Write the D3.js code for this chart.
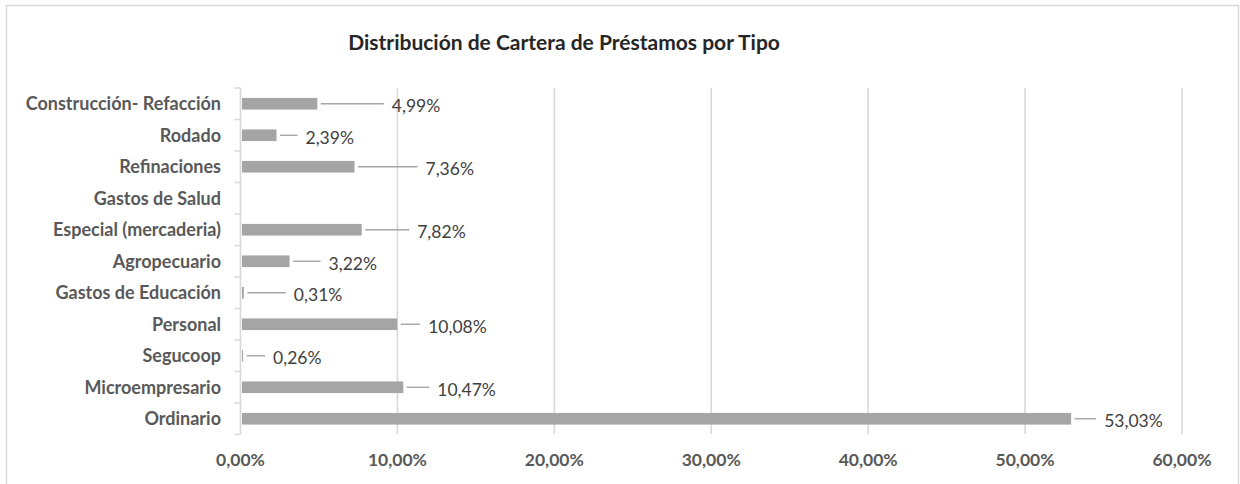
<!DOCTYPE html>
<html><head><meta charset="utf-8">
<script src="https://cdn.jsdelivr.net/npm/d3@7"></script>
<style>
html,body{margin:0;padding:0;background:#fff;}
svg{display:block;font-family:Lato,"Open Sans",sans-serif;}
</style></head>
<body>
<svg id="chart" width="1240" height="484"></svg>
<script>
const categories = ["Construcción- Refacción","Rodado","Refinaciones","Gastos de Salud","Especial (mercaderia)","Agropecuario","Gastos de Educación","Personal","Segucoop","Microempresario","Ordinario"];
const values = [4.99, 2.39, 7.36, 0, 7.82, 3.22, 0.31, 10.08, 0.26, 10.47, 53.03];
const valueLabels = ["4,99%","2,39%","7,36%","","7,82%","3,22%","0,31%","10,08%","0,26%","10,47%","53,03%"];
const tickValues = [0, 10, 20, 30, 40, 50, 60];
const tickLabels = ["0,00%","10,00%","20,00%","30,00%","40,00%","50,00%","60,00%"];
const title = "Distribución de Cartera de Préstamos por Tipo";
// horizontal distance (px) from bar end to the start of each data label
const labelGap = [73, 27.5, 69.5, 0, 54, 37.5, 48.5, 29.5, 28.5, 32.5, 31.5];

const svg = d3.select("#chart");
svg.append("rect").attr("x",6.5).attr("y",5.5).attr("width",1232).attr("height",520)
  .attr("fill","#fff").attr("stroke","#d9d9d9").attr("stroke-width",1.5);

svg.append("text").attr("x",564).attr("y",50).attr("text-anchor","middle")
  .attr("font-size",21).attr("font-weight","bold").attr("fill","#262626").text(title);

const x = d3.scaleLinear().domain([0,60]).range([240.5,1182]);
const y = d3.scaleBand().domain(categories).range([88,434.5]).paddingInner(0.63).paddingOuter(0.315);
const yb = d3.scaleBand().domain(categories).range([88,434.5]);

// gridlines
svg.append("g").selectAll("line").data(tickValues.slice(1)).join("line")
  .attr("x1",d=>x(d)).attr("x2",d=>x(d)).attr("y1",88).attr("y2",434)
  .attr("stroke","#d9d9d9").attr("stroke-width",1.6);

// y axis
const yAxis = d3.axisLeft(yb).tickSize(6).tickFormat(()=> "");
const ya = svg.append("g").attr("transform",`translate(${x(0)},0)`).call(yAxis);
ya.selectAll(".tick line").attr("transform",`translate(0,${-yb.bandwidth()/2})`).attr("stroke","#d9d9d9").attr("stroke-width",1.5);
ya.select(".domain").attr("stroke","#d9d9d9").attr("stroke-width",1.6).attr("d",`M0,88V434.5`);
ya.append("line").attr("x1",-6).attr("x2",0).attr("y1",434.5).attr("y2",434.5).attr("stroke","#d9d9d9").attr("stroke-width",1.5);

// category labels
svg.append("g").selectAll("text").data(categories).join("text")
  .attr("x",221).attr("y",d=>yb(d)+yb.bandwidth()/2).attr("dy","0.36em")
  .attr("text-anchor","end").attr("font-size",18).attr("font-weight","bold").attr("fill","#595959")
  .text(d=>d);

// bars
const data = categories.map((c,i)=>({c, v:values[i], lab:valueLabels[i], gap:labelGap[i]}));
svg.append("g").selectAll("rect").data(data.filter(d=>d.v>0)).join("rect")
  .attr("x",x(0)+1.5).attr("y",d=>y(d.c)).attr("height",y.bandwidth())
  .attr("width",d=>Math.max(0.8, x(d.v)-x(0)-3)).attr("fill","#a5a5a5");

// leader lines + labels
const lab = data.filter(d=>d.lab);
svg.append("g").selectAll("line").data(lab).join("line")
  .attr("x1",d=>x(d.v)+2).attr("x2",d=>x(d.v)+d.gap-8)
  .attr("y1",d=>yb(d.c)+yb.bandwidth()/2).attr("y2",d=>yb(d.c)+yb.bandwidth()/2)
  .attr("stroke","#a6a6a6").attr("stroke-width",1.4);
svg.append("g").selectAll("text").data(lab).join("text")
  .attr("x",d=>x(d.v)+d.gap).attr("y",d=>yb(d.c)+yb.bandwidth()/2+2).attr("dy","0.36em")
  .attr("font-size",17.5).attr("fill","#404040").text(d=>d.lab);

// x tick labels
svg.append("g").selectAll("text").data(tickValues).join("text")
  .attr("x",d=>x(d)).attr("y",460).attr("dy","0.36em").attr("text-anchor","middle")
  .attr("font-size",17.5).attr("font-weight","bold").attr("fill","#595959")
  .text((d,i)=>tickLabels[i]);
</script>
</body></html>
